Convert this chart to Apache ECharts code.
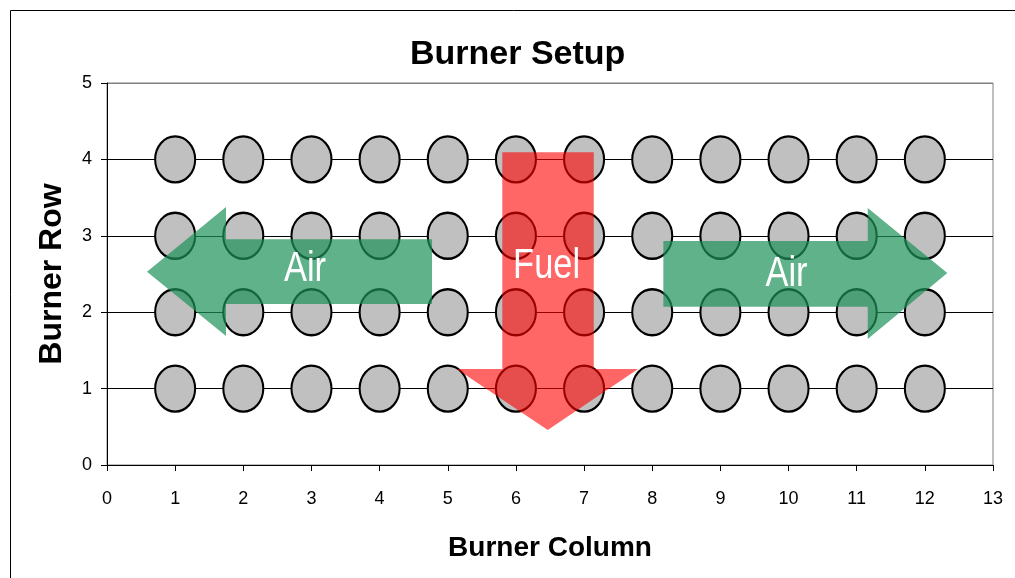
<!DOCTYPE html>
<html><head><meta charset="utf-8">
<script src="https://cdn.jsdelivr.net/npm/echarts@6/dist/echarts.min.js"></script>
<style>html,body{margin:0;padding:0;background:#fff}#c{width:1015px;height:578px}</style>
</head><body><div id="c"></div>
<script>
const burnerColumns = [1,2,3,4,5,6,7,8,9,10,11,12];
const burnerRows = [1,2,3,4];
const xTicks = [0,1,2,3,4,5,6,7,8,9,10,11,12,13];
const yTicks = [0,1,2,3,4,5];
// annotation arrows, vertices in data units
const airLeftArrow = [[0.587,2.53],[1.746,3.377],[1.746,2.954],[4.769,2.954],[4.769,2.107],[1.746,2.107],[1.746,1.688]];
const airRightArrow = [[8.163,2.932],[11.162,2.932],[11.162,3.364],[12.33,2.513],[11.162,1.649],[11.162,2.072],[8.163,2.072]];
const fuelArrow = [[5.80,4.093],[7.142,4.093],[7.142,1.257],[7.792,1.257],[6.467,0.458],[5.131,1.257],[5.80,1.257]];
const arrowLabels = ['Air','Air','Fuel'];
const arrowLabelPos = [[2.905,2.56],[9.97,2.5],[6.45,2.6]];
const arrowShapes = [airLeftArrow, airRightArrow, fuelArrow];
const arrowColors = ['rgba(29,146,88,0.7)','rgba(29,146,88,0.7)','rgba(255,0,0,0.6)'];

const burners = [];
burnerRows.forEach(r => burnerColumns.forEach(c => burners.push([c, r])));

const chart = echarts.init(document.getElementById('c'), null, {renderer:'canvas'});
chart.setOption({
  animation:false,
  title:{text:'Burner Setup', left:410, top:38, padding:0,
    textStyle:{fontFamily:'Liberation Sans, Arial, sans-serif', fontSize:34, fontWeight:'bold', color:'#000'}},
  graphic:[{type:'rect', left:8, top:8, shape:{width:1100, height:700}, style:{fill:'none', stroke:'#000', lineWidth:1}, z:-1}],
  grid:{left:107, right:22, top:83, bottom:113, show:true, borderColor:'#808080', borderWidth:1, backgroundColor:'#fff'},
  xAxis:{type:'value', min:0, max:13, interval:1,
    name:'Burner Column', nameLocation:'middle', nameGap:69,
    nameTextStyle:{fontFamily:'Liberation Sans, Arial, sans-serif', fontSize:28, fontWeight:'bold', color:'#000'},
    axisLine:{lineStyle:{color:'#000', width:1}},
    axisTick:{show:true, length:6, lineStyle:{color:'#000'}},
    axisLabel:{margin:25, fontFamily:'Liberation Sans, Arial, sans-serif', fontSize:18, color:'#000',
      formatter:v => xTicks.includes(v) ? String(v) : ''},
    splitLine:{show:false}},
  yAxis:{type:'value', min:0, max:5, interval:1,
    name:'Burner Row', nameLocation:'middle', nameGap:39, nameRotate:90,
    nameTextStyle:{fontFamily:'Liberation Sans, Arial, sans-serif', fontSize:32, fontWeight:'bold', color:'#000'},
    axisLine:{show:true, lineStyle:{color:'#000', width:1}},
    axisTick:{show:true, length:6, lineStyle:{color:'#000'}},
    axisLabel:{margin:15, fontFamily:'Liberation Sans, Arial, sans-serif', fontSize:18, color:'#000',
      formatter:v => yTicks.includes(v) ? String(v) : ''},
    splitLine:{show:true, lineStyle:{color:['#000','#000','#000','#000','#000','#808080'], width:1}}},
  series:[
    {type:'scatter', data:burners, z:2,
     symbol:'path://M0,23A20,23,0,1,1,40,23A20,23,0,1,1,0,23Z', symbolSize:[40,46],
     itemStyle:{color:'#C0C0C0', borderColor:'#000', borderWidth:2.2, opacity:1},
     emphasis:{disabled:true}},
    {type:'custom', coordinateSystem:'cartesian2d', z:3, clip:false,
     data:arrowShapes.map((s,i)=>[arrowLabelPos[i][0], arrowLabelPos[i][1], i]),
     encode:{x:0, y:1},
     renderItem:function(params, api){
       const i = api.value(2);
       const pts = arrowShapes[i].map(p => api.coord(p));
       const c = api.coord(arrowLabelPos[i]);
       return {type:'group', children:[
         {type:'polygon', shape:{points:pts}, style:{fill:arrowColors[i], stroke:null}},
         {type:'text', x:c[0], y:c[1], scaleX:0.82, style:{text:arrowLabels[i], fill:'#fff',
           font:'42px "Liberation Sans", Arial, sans-serif',
           align:'center', verticalAlign:'middle'}}
       ]};
     }}
  ]
});
</script></body></html>
